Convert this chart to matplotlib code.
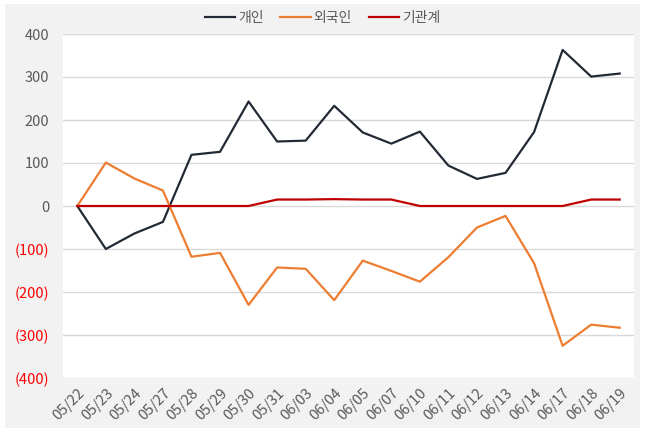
import matplotlib.pyplot as plt
from matplotlib.patches import Rectangle
from matplotlib.ticker import FixedLocator

plt.rcParams['font.family'] = ['Noto Sans CJK KR', 'DejaVu Sans']

# 날짜
dates = ['05/22', '05/23', '05/24', '05/27', '05/28', '05/29', '05/30', '05/31',
         '06/03', '06/04', '06/05', '06/07', '06/10', '06/11', '06/12', '06/13',
         '06/14', '06/17', '06/18', '06/19']
# 개인
individual = [0, -100, -64, -37, 119, 126, 243, 150, 152, 233, 171, 145, 173,
              94, 63, 77, 172, 363, 301, 308]
# 외국인
foreign = [0, 101, 64, 36, -118, -109, -230, -143, -146, -219, -127, -151, -176,
           -119, -50, -23, -133, -325, -276, -283]
# 기관계
institution = [0, 0, 0, 0, 0, 0, 0, 15, 15, 16, 15, 15, 0, 0, 0, 0, 0, 0, 15, 15]

yticks = [400, 300, 200, 100, 0, -100, -200, -300, -400]

fig = plt.figure(figsize=(6.45, 4.32), dpi=100, facecolor='white')
fig.patches.append(Rectangle((5 / 645, 4 / 432), 635 / 645, 424 / 432,
                             transform=fig.transFigure, facecolor='#f2f2f2',
                             edgecolor='none', zorder=-10))
ax = fig.add_axes([63 / 645, 54 / 432, 571 / 645, 344 / 432])
ax.set_facecolor('white')

x = range(len(dates))
ax.plot(x, individual, color='#222a35', linewidth=1.6, label='개인')
ax.plot(x, foreign, color='#ed7d31', linewidth=1.6, label='외국인')
ax.plot(x, institution, color='#c00000', linewidth=1.6, label='기관계')

ax.set_xlim(-0.5, len(dates) - 0.5)
ax.set_ylim(-400, 400)
ax.yaxis.set_major_locator(FixedLocator(yticks))
ax.set_yticklabels([str(v) if v >= 0 else '(%d)' % -v for v in yticks])
for lab, v in zip(ax.get_yticklabels(), yticks):
    lab.set_color('#595959' if v >= 0 else '#ff0000')
ax.set_xticks(list(x))
ax.set_xticklabels(dates, rotation=45, ha='right', rotation_mode='anchor',
                   color='#595959')
ax.tick_params(axis='both', length=0, labelsize=10.5)
ax.tick_params(axis='y', pad=10)
ax.tick_params(axis='x', pad=6)

ax.grid(axis='y', color='#d9d9d9', linewidth=1)
ax.set_axisbelow(True)
for s in ax.spines.values():
    s.set_visible(False)

fig.legend(loc='center', bbox_to_anchor=(0.5, 1 - 18 / 432), ncol=3, frameon=False,
           fontsize=10, handlelength=2.2, handletextpad=0.2, columnspacing=1.2,
           labelcolor='#595959')

fig.savefig('out.png', dpi=100, facecolor='white')
